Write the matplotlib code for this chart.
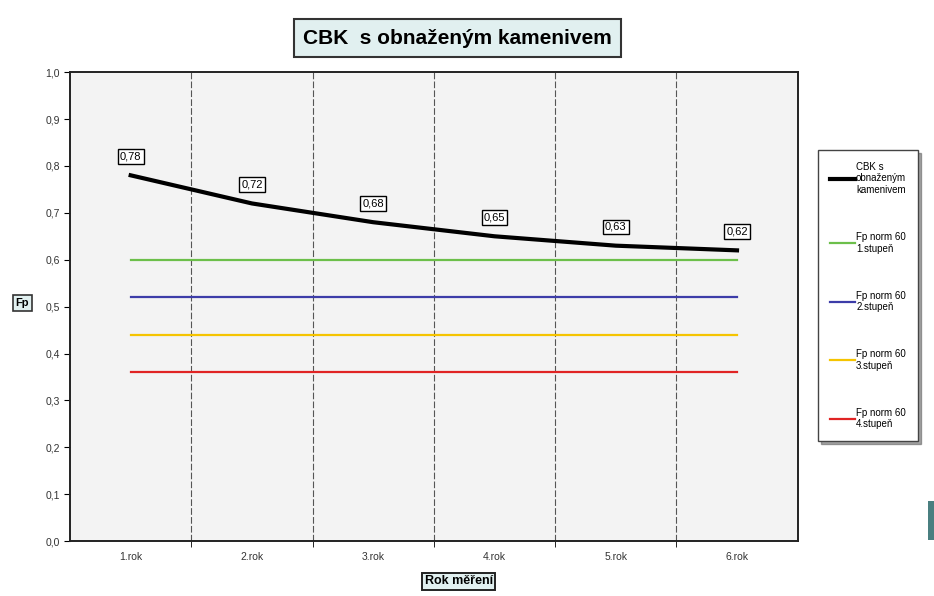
import matplotlib
matplotlib.use("Agg")
import matplotlib.pyplot as plt
from matplotlib.patches import Rectangle

# ------------------------------------------------------------------------------
# Data
# ------------------------------------------------------------------------------
years = ["1.rok", "2.rok", "3.rok", "4.rok", "5.rok", "6.rok"]
cbk = [0.78, 0.72, 0.68, 0.65, 0.63, 0.62]
fp1 = [0.60] * 6
fp2 = [0.52] * 6
fp3 = [0.44] * 6
fp4 = [0.36] * 6
yticks = [0.0, 0.1, 0.2, 0.3, 0.4, 0.5, 0.6, 0.7, 0.8, 0.9, 1.0]
ytick_labels = ["0,0", "0,1", "0,2", "0,3", "0,4", "0,5", "0,6", "0,7", "0,8", "0,9", "1,0"]
cbk_labels = ["0,78", "0,72", "0,68", "0,65", "0,63", "0,62"]

# ------------------------------------------------------------------------------
# Plot characteristics
# ------------------------------------------------------------------------------
plt.rcParams['font.family'] = ['Liberation Sans', 'DejaVu Sans']
fig = plt.figure(figsize=(9.34, 5.96), dpi=100)
ax = fig.add_axes([0.075, 0.092, 0.779, 0.787])
ax.set_facecolor("#f3f3f3")

xs = list(range(len(years)))
ax.plot(xs, fp1, color="#6cbf4a", lw=1.6, label="Fp norm 60\n1.stupeň")
ax.plot(xs, fp2, color="#3c3ca8", lw=1.6, label="Fp norm 60\n2.stupeň")
ax.plot(xs, fp3, color="#f5c400", lw=1.6, label="Fp norm 60\n3.stupeň")
ax.plot(xs, fp4, color="#e02424", lw=1.6, label="Fp norm 60\n4.stupeň")
ax.plot(xs, cbk, color="black", lw=3, label="CBK s\nobnaženým\nkamenivem", zorder=5)

for x, v, t in zip(xs, cbk, cbk_labels):
    ax.annotate(t, (x, v), xytext=(0, 10), textcoords="offset points", ha="center",
                va="bottom", fontsize=8,
                bbox=dict(boxstyle="square,pad=0.2", fc="white", ec="black", lw=1))

ax.set_xlim(-0.5, 5.5)
ax.set_ylim(0, 1.0)
ax.set_yticks(yticks)
ax.set_yticklabels(ytick_labels, fontsize=7.5, color="#333333")
ax.set_xticks(xs)
ax.set_xticklabels(years, fontsize=7.5, color="#333333")
ax.tick_params(axis="x", length=0, pad=8)
ax.tick_params(axis="y", length=4, direction="out")
ax.set_xticks([0.5, 1.5, 2.5, 3.5, 4.5], minor=True)
ax.tick_params(axis="x", which="minor", length=4, direction="out")
ax.grid(axis="x", which="minor", color="#555555", lw=0.8, ls=(0, (6, 2)))
ax.grid(axis="x", which="major", visible=False)
for s in ax.spines.values():
    s.set_linewidth(1.4)
    s.set_color("#222222")

# legend (order as in reference)
h, l = ax.get_legend_handles_labels()
order = [4, 0, 1, 2, 3]
leg = fig.legend([h[i] for i in order], [l[i] for i in order],
                 loc="upper left", bbox_to_anchor=(0.876, 0.748), borderaxespad=0,
                 fontsize=7, frameon=True, fancybox=False, shadow=True,
                 handlelength=2.6, handletextpad=0.1, labelspacing=3.8,
                 borderpad=1.2, edgecolor="#444444")
leg.get_frame().set_linewidth(1)

# title box
fig.text(0.49, 0.936, "CBK  s obnaženým kamenivem", ha="center", va="center",
         fontsize=15, fontweight="bold",
         bbox=dict(boxstyle="square,pad=0.45", fc="#e1f0f0", ec="#333333", lw=1.5))

# axis titles
fig.text(0.024, 0.492, "Fp", ha="center", va="center", fontsize=8, fontweight="bold",
         bbox=dict(boxstyle="square,pad=0.25", fc="#e1f0f0", ec="#333333", lw=1.2))
fig.text(0.491, 0.025, "Rok měření", ha="center", va="center", fontsize=9,
         fontweight="bold",
         bbox=dict(boxstyle="square,pad=0.2", fc="#e1f0f0", ec="#222222", lw=1.4))

# teal bar at right edge
fig.patches.append(Rectangle((0.9935, 0.094), 0.0065, 0.065, transform=fig.transFigure,
                             facecolor="#4a7f80", edgecolor="none"))

plt.savefig("out.png", dpi=100)
